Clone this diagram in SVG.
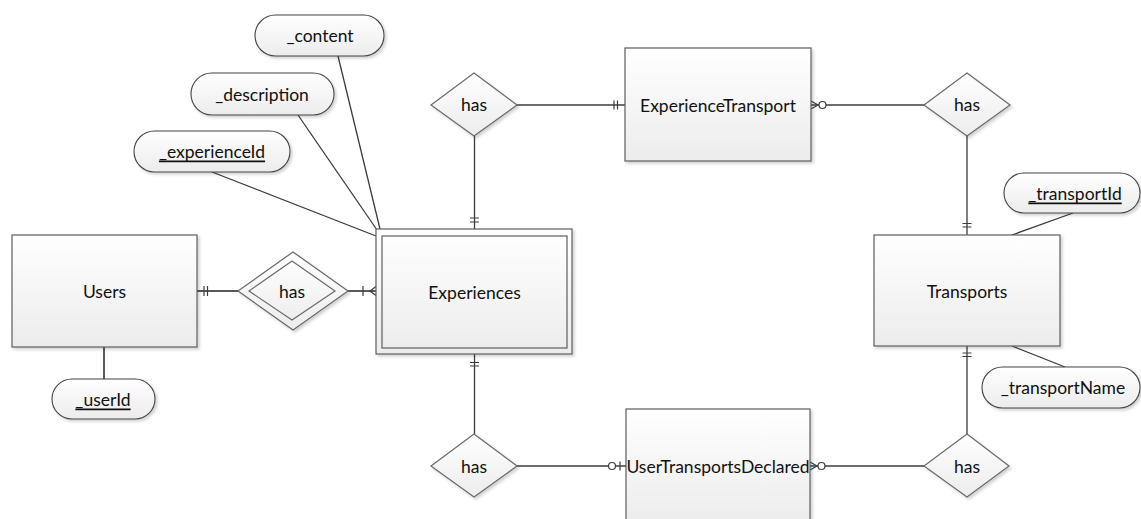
<svg xmlns="http://www.w3.org/2000/svg" width="1141" height="519" viewBox="0 0 1141 519">
  <defs>
    <linearGradient id="fill" x1="0" y1="0" x2="0" y2="1">
      <stop offset="0" stop-color="#ffffff"/>
      <stop offset="1" stop-color="#ececec"/>
    </linearGradient>
    <filter id="shadow" x="-10%" y="-10%" width="130%" height="130%">
      <feDropShadow dx="2" dy="2" stdDeviation="1.5" flood-color="#000" flood-opacity="0.18"/>
    </filter>
  </defs>
  <style>
    .ent { fill: url(#fill); stroke: #5e5e5e; stroke-width: 1.2; filter: url(#shadow); }
    .rel { fill: url(#fill); stroke: #6a6a6a; stroke-width: 1.2; filter: url(#shadow); }
    .attr { fill: url(#fill); stroke: #444; stroke-width: 1.1; filter: url(#shadow); }
    .lbl { font-family: Lato, "Liberation Sans", sans-serif; font-size: 17.5px; fill: #111; text-anchor: middle; dominant-baseline: central; }
    .key { text-decoration: underline; }
    .ln { fill: none; stroke: #3c3c3c; stroke-width: 1.3; }
    .ln2 { fill: none; stroke: #5a5a5a; stroke-width: 2; }
    .mk { fill: none; stroke: #3c3c3c; stroke-width: 1.2; }
    .circ { fill: #fff; stroke: #3c3c3c; stroke-width: 1.2; }
  </style>

  <!-- connectors -->
  <g id="connectors">
    <!-- attribute links -->
    <line class="ln" x1="338" y1="56" x2="380" y2="229"/>
    <line class="ln" x1="298" y1="115" x2="377" y2="230"/>
    <line class="ln" x1="212" y1="172" x2="376" y2="236"/>
    <line class="ln2" x1="104" y1="347" x2="104" y2="379"/>
    <line class="ln" x1="1073" y1="213" x2="1012" y2="235"/>
    <line class="ln" x1="1012" y1="346" x2="1065" y2="367"/>

    <!-- Users - has -->
    <line class="ln2" x1="197" y1="291" x2="238" y2="291"/>
    <path class="mk" d="M204 286 V296 M207.5 286 V296"/>
    <!-- has - Experiences -->
    <line class="ln2" x1="348" y1="291" x2="376" y2="291"/>
    <path class="mk" d="M363 286 V296 M376 286.5 L370 291 L376 295.5"/>

    <!-- has (top) - Experiences -->
    <line class="ln" x1="474.5" y1="136" x2="474.5" y2="229"/>
    <path class="mk" d="M470 218 H479 M470 222 H479"/>
    <!-- has (top) - ExperienceTransport -->
    <line class="ln" x1="517" y1="105" x2="625" y2="105"/>
    <path class="mk" d="M614 100.5 V109.5 M617.5 100.5 V109.5"/>
    <!-- ExperienceTransport - has (right) -->
    <line class="ln" x1="811" y1="105" x2="924" y2="105"/>
    <path class="mk" d="M811 101 L818 105 L811 109"/>
    <circle class="circ" cx="822.5" cy="105" r="3.5"/>
    <!-- has (right) - Transports -->
    <line class="ln" x1="967" y1="136" x2="967" y2="235"/>
    <path class="mk" d="M962.5 223.5 H971.5 M962.5 227 H971.5"/>

    <!-- Experiences - has (bottom) -->
    <line class="ln" x1="474.5" y1="354" x2="474.5" y2="434"/>
    <path class="mk" d="M470 362.5 H479 M470 366 H479"/>
    <!-- has (bottom) - UserTransportsDeclared -->
    <line class="ln" x1="517" y1="466" x2="626" y2="466"/>
    <circle class="circ" cx="612" cy="466" r="3.5"/>
    <path class="mk" d="M620 461.5 V470.5"/>
    <!-- UserTransportsDeclared - has (bottom right) -->
    <line class="ln" x1="810" y1="466" x2="924" y2="466"/>
    <path class="mk" d="M810 462 L817 466 L810 470"/>
    <circle class="circ" cx="821.5" cy="466" r="3.5"/>
    <!-- Transports - has (bottom right) -->
    <line class="ln" x1="967" y1="346" x2="967" y2="434"/>
    <path class="mk" d="M962.5 353 H971.5 M962.5 356.5 H971.5"/>
  </g>

  <!-- entities -->
  <g id="users">
    <rect class="ent" x="12" y="235" width="185" height="112"/>
    <text class="lbl" x="104.5" y="291">Users</text>
  </g>
  <g id="experiences">
    <rect class="ent" x="376" y="229" width="196" height="125"/>
    <rect fill="none" stroke="#5e5e5e" stroke-width="1.2" x="382" y="236" width="185" height="112"/>
    <text class="lbl" x="474.5" y="292">Experiences</text>
  </g>
  <g id="experienceTransport">
    <rect class="ent" x="625" y="48" width="186" height="113"/>
    <text class="lbl" x="718" y="105">ExperienceTransport</text>
  </g>
  <g id="transports">
    <rect class="ent" x="874" y="235" width="186" height="111"/>
    <text class="lbl" x="967" y="291">Transports</text>
  </g>
  <g id="userTransportsDeclared">
    <rect class="ent" x="626" y="409" width="184" height="114"/>
    <text class="lbl" x="718" y="466">UserTransportsDeclared</text>
  </g>

  <!-- relationships -->
  <g id="rel-users-experiences">
    <polygon class="rel" points="293,252 348,291 293,330 238,291"/>
    <polygon fill="none" stroke="#6a6a6a" stroke-width="1.2" points="292,261 335,291 292,320 249,291"/>
    <text class="lbl" x="292" y="291">has</text>
  </g>
  <g id="rel-experience-transport">
    <polygon class="rel" points="474,73 517,105 474,136 431,105"/>
    <text class="lbl" x="474" y="104">has</text>
  </g>
  <g id="rel-transport-experience">
    <polygon class="rel" points="967,73 1010,105 967,136 924,105"/>
    <text class="lbl" x="967" y="104">has</text>
  </g>
  <g id="rel-experience-declared">
    <polygon class="rel" points="474,434 517,466 474,497 431,466"/>
    <text class="lbl" x="474" y="466">has</text>
  </g>
  <g id="rel-transport-declared">
    <polygon class="rel" points="967,434 1009,466 967,497 924,466"/>
    <text class="lbl" x="967" y="466">has</text>
  </g>

  <!-- attributes -->
  <g id="attr-content">
    <rect class="attr" x="255" y="15" width="129" height="41" rx="20.5"/>
    <text class="lbl" x="320" y="35">_content</text>
  </g>
  <g id="attr-description">
    <rect class="attr" x="191" y="73" width="143" height="42" rx="21"/>
    <text class="lbl" x="262" y="94">_description</text>
  </g>
  <g id="attr-experienceId">
    <rect class="attr" x="134" y="131" width="156" height="41" rx="20.5"/>
    <text class="lbl key" x="212" y="151">_experienceId</text>
  </g>
  <g id="attr-userId">
    <rect class="attr" x="52" y="379" width="103" height="40" rx="20"/>
    <text class="lbl key" x="103" y="399">_userId</text>
  </g>
  <g id="attr-transportId">
    <rect class="attr" x="1004" y="173" width="136" height="40" rx="20"/>
    <text class="lbl key" x="1075" y="193">_transportId</text>
  </g>
  <g id="attr-transportName">
    <rect class="attr" x="982" y="367" width="158" height="41" rx="20.5"/>
    <text class="lbl" x="1063" y="387">_transportName</text>
  </g>
</svg>
